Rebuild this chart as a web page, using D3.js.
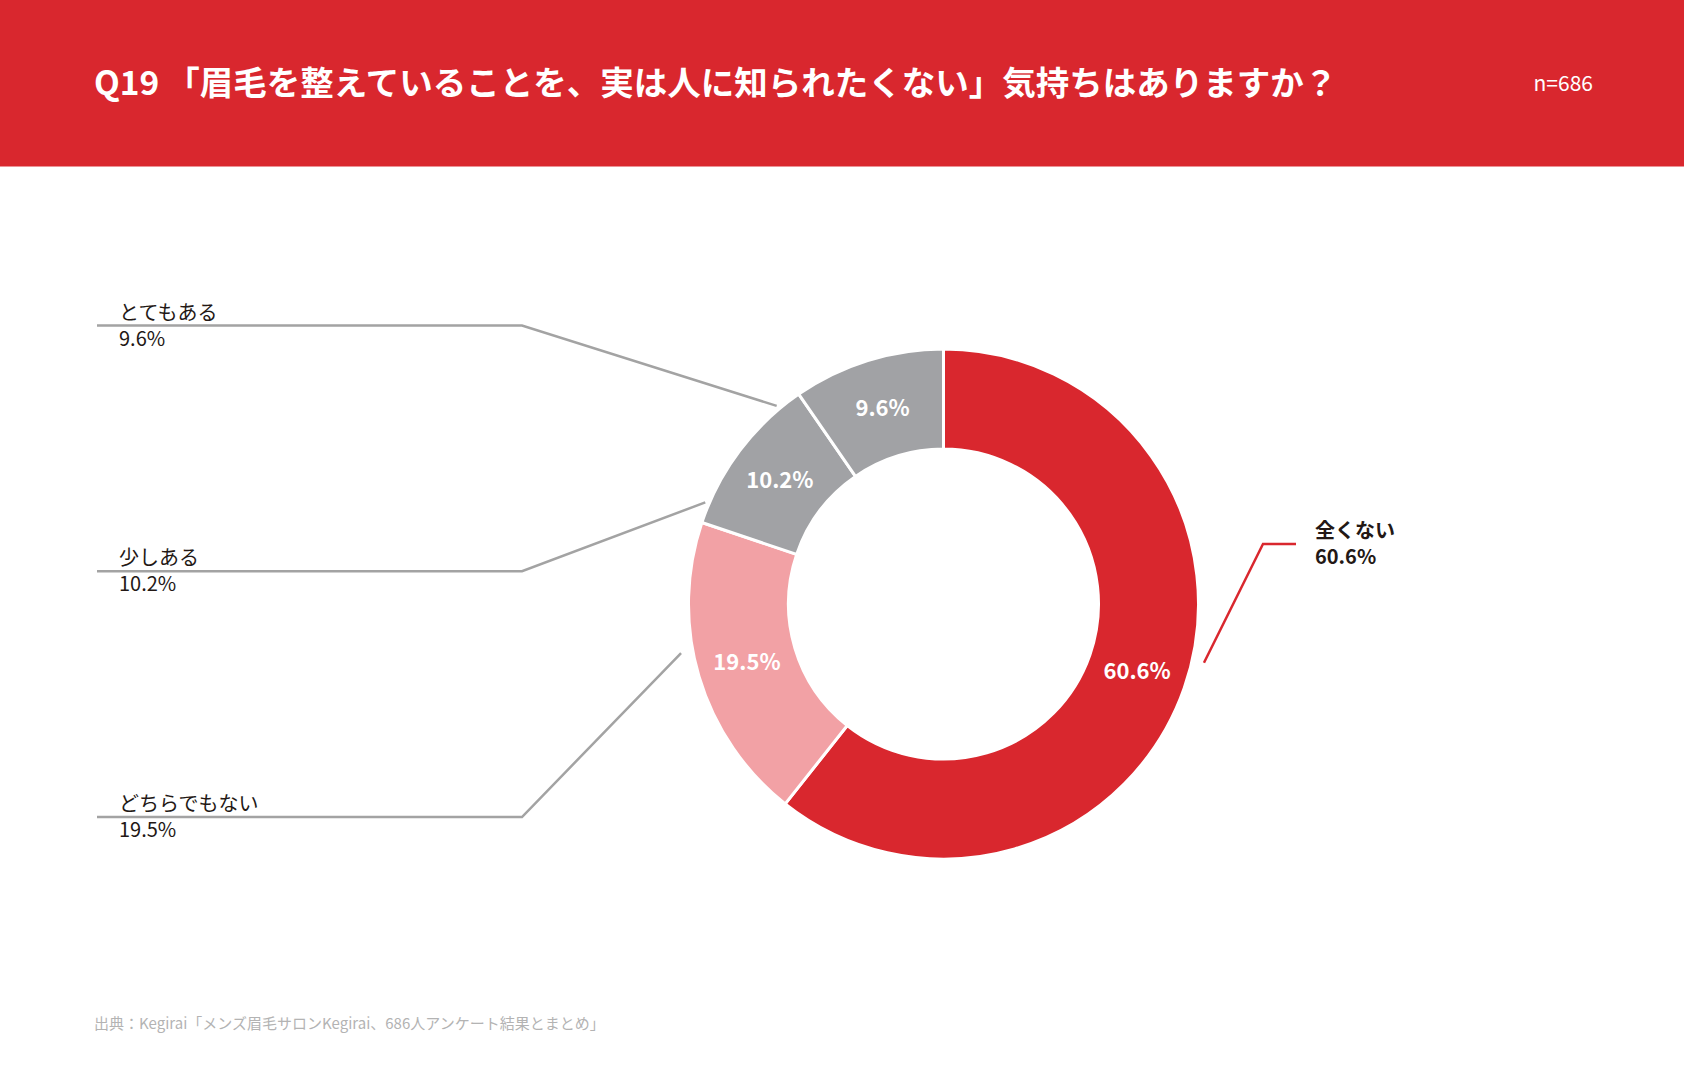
<!DOCTYPE html>
<html>
<head>
<meta charset="utf-8">
<script src="https://cdn.jsdelivr.net/npm/d3@7"></script>
<style>
  html, body { margin: 0; padding: 0; background: #fff; }
  svg { display: block; font-family: "Noto Sans CJK JP", "Noto Sans", sans-serif; }
</style>
</head>
<body>
<div id="chart"></div>
<script>
// Chart data
const categories = ["全くない", "どちらでもない", "少しある", "とてもある"];
const values = [60.6, 19.5, 10.2, 9.6];
const valueLabels = ["60.6%", "19.5%", "10.2%", "9.6%"];
const leftLabelOrder = ["とてもある", "少しある", "どちらでもない"];
const questionNo = "Q19";
const titleText = "「眉毛を整えていることを、実は人に知られたくない」気持ちはありますか？";
const sampleText = "n=686";
const sourceText = "出典：Kegirai「メンズ眉毛サロンKegirai、686人アンケート結果とまとめ」";

// Dimensions
const width = 1684;
const height = 1089;
const headerHeight = 166.5;
const cx = 943.5;
const cy = 604;
const outerR = 255;
const innerR = 155;

// Colours
const red = "#d9272e";
const sliceColors = { "全くない": red, "どちらでもない": "#f2a1a5", "少しある": "#a1a2a5", "とてもある": "#a1a2a5" };
const leaderGray = "#a3a3a3";
const textDark = "#231815";

// Where each leader line touches the ring (degrees clockwise from 12 o'clock)
const leaderAngle = { "全くない": 102.7, "どちらでもない": 259.4, "少しある": 293.1, "とてもある": 319.9 };
const leaderRadius = { "全くない": 267, "どちらでもない": 267, "少しある": 259, "とてもある": 259 };

const svg = d3.select("#chart")
  .append("svg")
  .attr("width", width)
  .attr("height", height)
  .attr("viewBox", [0, 0, width, height]);

// Header band
svg.append("rect")
  .attr("x", 0).attr("y", 0)
  .attr("width", width).attr("height", headerHeight)
  .attr("fill", red);

const title = svg.append("text")
  .attr("x", 94)
  .attr("y", 95)
  .attr("fill", "#fff")
  .style("font-size", "33.5px")
  .style("font-weight", 700);

title.append("tspan").text(questionNo);
title.append("tspan").attr("dx", 7).text(titleText);

svg.append("text")
  .attr("x", 1593)
  .attr("y", 91)
  .attr("text-anchor", "end")
  .attr("fill", "#fff")
  .style("font-size", "21px")
  .text(sampleText);

// Donut
const data = categories.map((c, i) => ({ category: c, value: values[i], label: valueLabels[i] }));

const pie = d3.pie()
  .sort(null)
  .value(d => d.value);

const arc = d3.arc()
  .innerRadius(innerR)
  .outerRadius(outerR);

const arcs = pie(data);

const g = svg.append("g")
  .attr("transform", `translate(${cx},${cy})`);

g.selectAll("path.slice")
  .data(arcs)
  .join("path")
  .attr("class", "slice")
  .attr("d", arc)
  .attr("fill", d => sliceColors[d.data.category])
  .attr("stroke", "#fff")
  .attr("stroke-width", 3)
  .attr("stroke-linejoin", "miter");

g.selectAll("text.inside")
  .data(arcs)
  .join("text")
  .attr("class", "inside")
  .attr("transform", d => `translate(${arc.centroid(d)})`)
  .attr("text-anchor", "middle")
  .attr("dy", "0.36em")
  .attr("fill", "#fff")
  .style("font-size", "22px")
  .style("font-weight", 700)
  .text(d => d.data.label);

// Leader lines, left side
const rowY = d3.scalePoint()
  .domain(leftLabelOrder)
  .range([325.5, 817]);

const lineStartX = 97;
const elbowX = 522;

function ringPoint(cat) {
  const p = d3.pointRadial(leaderAngle[cat] * Math.PI / 180, leaderRadius[cat]);
  return [cx + p[0], cy + p[1]];
}

const leftData = data.filter(d => leftLabelOrder.includes(d.category));

const leftG = svg.append("g");

leftG.selectAll("polyline")
  .data(leftData)
  .join("polyline")
  .attr("points", d => {
    const y = rowY(d.category);
    const end = ringPoint(d.category);
    return [[lineStartX, y], [elbowX, y], end].map(p => p.join(",")).join(" ");
  })
  .attr("fill", "none")
  .attr("stroke", leaderGray)
  .attr("stroke-width", 2.5);

const leftText = leftG.selectAll("text.name")
  .data(leftData)
  .join("text")
  .attr("class", "name")
  .attr("fill", textDark)
  .style("font-size", "20px");

leftText.append("tspan")
  .attr("x", 119)
  .attr("y", d => rowY(d.category) - 6)
  .text(d => d.category);

leftText.append("tspan")
  .attr("x", 119)
  .attr("y", d => rowY(d.category) + 20)
  .text(d => d.label);

// Leader line, right side (largest slice)
const main = data[0];
const mainEnd = ringPoint(main.category);
const rightY = 544;
svg.append("polyline")
  .attr("points", [mainEnd, [1263, rightY], [1296, rightY]].map(p => p.join(",")).join(" "))
  .attr("fill", "none")
  .attr("stroke", red)
  .attr("stroke-width", 2.5);

const rightText = svg.append("text")
  .attr("fill", textDark)
  .style("font-size", "20px")
  .style("font-weight", 700);

rightText.append("tspan")
  .attr("x", 1315)
  .attr("y", rightY - 6)
  .text(main.category);

rightText.append("tspan")
  .attr("x", 1315)
  .attr("y", rightY + 20)
  .text(main.label);

// Source note
svg.append("text")
  .attr("x", 94)
  .attr("y", 1029)
  .attr("fill", "#b3b3b3")
  .style("font-size", "15px")
  .text(sourceText);
</script>
</body>
</html>
